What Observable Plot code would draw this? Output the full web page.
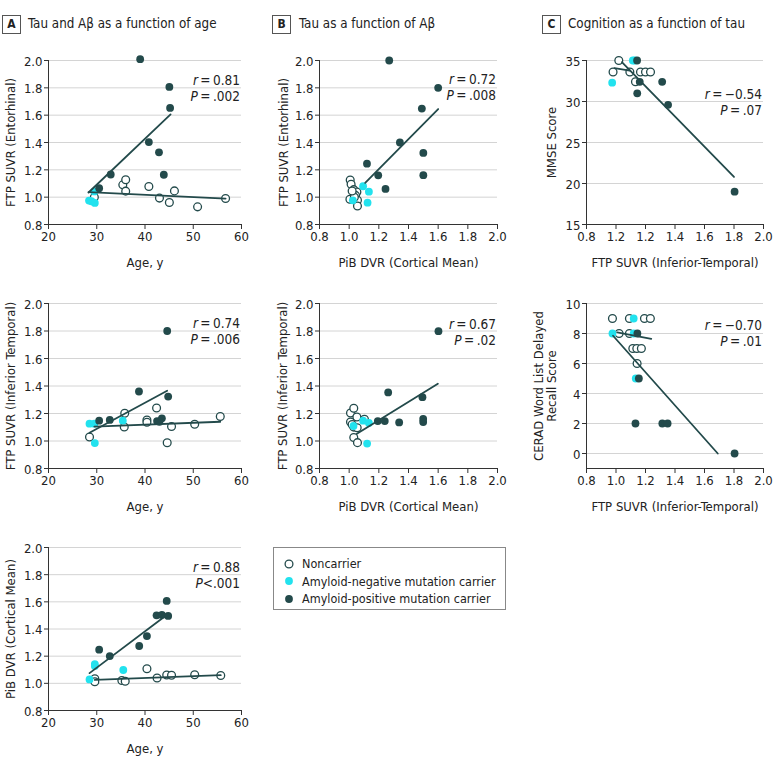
<!DOCTYPE html>
<html><head><meta charset="utf-8">
<script src="https://cdn.jsdelivr.net/npm/d3@7"></script>
<script src="https://cdn.jsdelivr.net/npm/@observablehq/plot@0.6"></script>
<style>
body{margin:0;background:#fff;}
#root{position:relative;width:780px;height:764px;overflow:hidden;font-family:"DejaVu Sans Condensed","DejaVu Sans",sans-serif;color:#222;}
.pl{position:absolute;}
.tagbox{position:absolute;width:17px;height:17px;border:1px solid #555;font-weight:bold;font-size:12px;line-height:17px;text-align:center;}
.title{position:absolute;font-size:13.3px;line-height:20px;white-space:nowrap;}
.ann{position:absolute;width:120px;text-align:right;font-size:13.5px;line-height:16px;white-space:nowrap;}
.legend{position:absolute;left:273px;top:547px;width:231px;height:61px;border:1px solid #888;font-size:12.5px;}
.legend .row{position:absolute;left:10px;height:18px;line-height:18px;white-space:nowrap;}
.legend svg{vertical-align:middle;margin-right:8px;position:relative;top:-1px;}
</style></head><body><div id="root"></div>
<script>
// ---------- data ----------
// Panel A, top: FTP SUVR (Entorhinal) vs age
const aTopOpen = [[29.5,1.00],[35.4,1.09],[36.0,1.127],[36.0,1.044],[40.8,1.078],[43.0,0.993],[45.05,0.961],[46.1,1.046],[50.9,0.929],[56.7,0.990]];
const aTopCyan = [[28.4,0.975],[28.9,0.97],[29.5,1.042],[29.6,0.958]];
const aTopDark = [[39.0,2.01],[45.05,1.807],[45.2,1.653],[40.8,1.403],[42.9,1.328],[43.9,1.164],[32.9,1.166],[30.5,1.066]];
const aTopLineDark = [[28.3,1.034],[45.3,1.606]];
const aTopLineOpen = [[28.3,1.037],[56.7,0.990]];
// Panel A, middle: FTP SUVR (Inferior Temporal) vs age
const aMidOpen = [[28.5,1.029],[35.8,1.202],[35.7,1.102],[40.4,1.153],[40.4,1.136],[42.4,1.240],[44.6,0.987],[45.5,1.105],[50.3,1.122],[55.6,1.178]];
const aMidCyan = [[28.5,1.126],[29.5,1.126],[29.6,0.985],[35.4,1.148]];
const aMidDark = [[44.6,1.80],[38.75,1.36],[44.8,1.323],[30.5,1.148],[32.7,1.153],[42.5,1.145],[43.5,1.165],[43.0,1.14]];
const aMidLineDark = [[28.5,1.06],[44.6,1.365]];
const aMidLineOpen = [[29.5,1.105],[55.6,1.14]];
// Panel A, bottom: PiB DVR (Cortical Mean) vs age
const aBotOpen = [[29.6,1.034],[29.6,1.012],[35.2,1.021],[35.9,1.015],[40.4,1.107],[42.5,1.039],[44.5,1.061],[45.5,1.059],[50.3,1.063],[55.7,1.058]];
const aBotCyan = [[29.6,1.142],[29.6,1.128],[28.5,1.029],[35.5,1.098]];
const aBotDark = [[44.5,1.607],[42.4,1.501],[43.5,1.503],[44.8,1.496],[40.4,1.348],[38.8,1.275],[32.7,1.201],[30.5,1.248]];
const aBotLineDark = [[28.5,1.075],[43.6,1.479]];
const aBotLineOpen = [[29.6,1.025],[55.7,1.06]];
// Panel B, top: FTP SUVR (Entorhinal) vs PiB DVR
const bTopOpen = [[1.007,1.125],[1.013,1.095],[1.031,1.055],[1.052,1.038],[1.043,1.013],[1.056,0.977],[1.056,0.935],[1.005,0.985],[1.035,1.0],[1.02,1.045]];
const bTopCyan = [[1.094,1.08],[1.133,1.04],[1.124,0.96],[1.025,0.977]];
const bTopDark = [[1.27,2.0],[1.60,1.80],[1.49,1.648],[1.342,1.40],[1.50,1.324],[1.50,1.161],[1.12,1.245],[1.196,1.16],[1.245,1.06]];
const bTopLine = [[1.108,1.105],[1.600,1.645]];
// Panel B, middle: FTP SUVR (Inferior Temporal) vs PiB DVR
const bMidOpen = [[1.009,1.204],[1.031,1.238],[1.052,1.175],[1.009,1.138],[1.031,1.101],[1.054,1.096],[1.031,1.025],[1.056,0.988],[1.103,1.158],[1.02,1.12]];
const bMidCyan = [[1.094,1.148],[1.133,1.131],[1.029,1.109],[1.121,0.981]];
const bMidDark = [[1.602,1.799],[1.263,1.353],[1.494,1.319],[1.499,1.160],[1.499,1.138],[1.193,1.145],[1.24,1.145],[1.337,1.135]];
const bMidLine = [[1.052,1.052],[1.598,1.417]];
// Panel C, top: MMSE vs FTP SUVR (Inferior-Temporal)
const cTopOpen = [[1.019,35],[0.98,33.6],[1.094,33.6],[1.166,33.6],[1.2,33.6],[1.234,33.6],[1.132,32.4]];
const cTopCyan = [[0.974,32.3],[1.114,35],[1.127,35]];
const cTopDark = [[1.143,35],[1.161,32.4],[1.144,31.0],[1.313,32.4],[1.353,29.6],[1.804,19.0]];
const cTopLineDark = [[1.04,34.8],[1.80,20.8]];
const cTopLineOpen = [[0.99,34.06],[1.093,33.77]];
// Panel C, middle: CERAD delayed recall vs FTP SUVR (Inferior-Temporal)
const cMidOpen = [[0.976,9],[1.091,9],[1.193,9],[1.233,9],[1.021,8],[1.091,8],[1.114,7],[1.141,7],[1.172,7],[1.143,6]];
const cMidCyan = [[0.976,8],[1.12,9],[1.12,8],[1.134,5]];
const cMidDark = [[1.145,8],[1.155,5],[1.132,2],[1.314,2],[1.35,2],[1.804,0]];
const cMidLineDark = [[0.98,7.85],[1.69,0.0]];
const cMidLineOpen = [[1.008,8.08],[1.239,7.64]];

// ticks and labels
const ageTicks = [20,30,40,50,60];
const suvrTicks = [0.8,1.0,1.2,1.4,1.6,1.8,2.0];
const mmseTicks = [15,20,25,30,35];
const ceradTicks = [0,2,4,6,8,10];
const cTopXTickLabels = ["0.8","1.2","1.2","1.4","1.6","1.8","2.0"];
const titles = ["Tau and A\u03b2 as a function of age","Tau as a function of A\u03b2","Cognition as a function of tau"];
const legendLabels = ["Noncarrier","Amyloid-negative mutation carrier","Amyloid-positive mutation carrier"];
const stats = [
  ["0.81",".002","="],["0.74",".006","="],["0.88",".001","<"],
  ["0.72",".008","="],["0.67",".02","="],
  ["\u22120.54",".07","="],["\u22120.70",".01","="]
];

// ---------- style ----------
const DARK = "#234a4b", CYAN = "#22e2ee", GRID = "#d4d4d4", AXIS = "#333";
const FONT = '"DejaVu Sans Condensed","DejaVu Sans",sans-serif';
const R = 3.9;
const f1 = d3.format(".1f");

function panel(c) {
  const X = d => d[0], Y = d => d[1];
  const marks = [
    Plot.gridY(c.yTicks, {stroke: GRID, strokeOpacity: 1}),
    Plot.ruleX([c.xDomain[0]], {stroke: AXIS}),
    Plot.ruleY([c.yDomain[0]], {stroke: AXIS}),
    Plot.axisX(c.xTicks, {tickSize: 5, tickPadding: 2, tickFormat: c.xFormat, label: c.xLabel, labelAnchor: "center", labelOffset: 42, labelArrow: "none", stroke: AXIS}),
    Plot.axisY(c.yTicks, {tickSize: 4, tickPadding: 2, tickFormat: c.yFormat, label: c.yLabel, labelAnchor: "center", labelOffset: c.yLabelOffset, labelArrow: "none", stroke: AXIS, lineHeight: 1.2}),
    Plot.dot(c.open, {x: X, y: Y, r: R, fill: "white", stroke: DARK, strokeWidth: 1.3}),
    Plot.dot(c.cyan, {x: X, y: Y, r: R, fill: CYAN}),
    Plot.dot(c.dark, {x: X, y: Y, r: R, fill: DARK}),
    ...c.lines.map(l => Plot.line(l, {x: X, y: Y, stroke: DARK, strokeWidth: 1.8}))
  ];
  const svg = Plot.plot({
    width: c.width, height: c.height,
    marginLeft: c.mL, marginRight: c.mR, marginTop: c.mT, marginBottom: c.mB,
    x: {domain: c.xDomain}, y: {domain: c.yDomain},
    style: {fontFamily: FONT, fontSize: "13px", color: "#222", background: "transparent", overflow: "visible"},
    marks
  });
  svg.classList.add("pl");
  svg.style.left = c.left + "px";
  svg.style.top = c.top + "px";
  return svg;
}

const root = document.getElementById("root");
const cols = [
  {left: 0, width: 250, mL: 48, mR: 9},
  {left: 262, width: 248, mL: 57, mR: 13},
  {left: 522, width: 258, mL: 64, mR: 17}
];
const rows = [
  {top: 45, mT: 15, frame: 164},
  {top: 288, mT: 15, frame: 165},
  {top: 532, mT: 15, frame: 163}
];
function geom(ci, ri) {
  const c = cols[ci], r = rows[ri];
  return {left: c.left, width: c.width, mL: c.mL, mR: c.mR, top: r.top, mT: r.mT, mB: 50, height: r.mT + r.frame + 50};
}
const cTopFmt = d => cTopXTickLabels[suvrTicks.indexOf(d)];

const specs = [
  {...geom(0,0), xDomain: [20,60], yDomain: [0.8,2.0], xTicks: ageTicks, yTicks: suvrTicks, xFormat: d => d, yFormat: f1,
   xLabel: "Age, y", yLabel: "FTP SUVR (Entorhinal)", yLabelOffset: 43,
   open: aTopOpen, cyan: aTopCyan, dark: aTopDark, lines: [aTopLineOpen, aTopLineDark]},
  {...geom(0,1), xDomain: [20,60], yDomain: [0.8,2.0], xTicks: ageTicks, yTicks: suvrTicks, xFormat: d => d, yFormat: f1,
   xLabel: "Age, y", yLabel: "FTP SUVR (Inferior Temporal)", yLabelOffset: 43,
   open: aMidOpen, cyan: aMidCyan, dark: aMidDark, lines: [aMidLineOpen, aMidLineDark]},
  {...geom(0,2), xDomain: [20,60], yDomain: [0.8,2.0], xTicks: ageTicks, yTicks: suvrTicks, xFormat: d => d, yFormat: f1,
   xLabel: "Age, y", yLabel: "PiB DVR (Cortical Mean)", yLabelOffset: 43,
   open: aBotOpen, cyan: aBotCyan, dark: aBotDark, lines: [aBotLineOpen, aBotLineDark]},
  {...geom(1,0), xDomain: [0.8,2.0], yDomain: [0.8,2.0], xTicks: suvrTicks, yTicks: suvrTicks, xFormat: f1, yFormat: f1,
   xLabel: "PiB DVR (Cortical Mean)", yLabel: "FTP SUVR (Entorhinal)", yLabelOffset: 41,
   open: bTopOpen, cyan: bTopCyan, dark: bTopDark, lines: [bTopLine]},
  {...geom(1,1), xDomain: [0.8,2.0], yDomain: [0.8,2.0], xTicks: suvrTicks, yTicks: suvrTicks, xFormat: f1, yFormat: f1,
   xLabel: "PiB DVR (Cortical Mean)", yLabel: "FTP SUVR (Inferior Temporal)", yLabelOffset: 42,
   open: bMidOpen, cyan: bMidCyan, dark: bMidDark, lines: [bMidLine]},
  {...geom(2,0), xDomain: [0.8,2.0], yDomain: [15,35], xTicks: suvrTicks, yTicks: mmseTicks, xFormat: cTopFmt, yFormat: d => d,
   xLabel: "FTP SUVR (Inferior-Temporal)", yLabel: "MMSE Score", yLabelOffset: 40,
   open: cTopOpen, cyan: cTopCyan, dark: cTopDark, lines: [cTopLineOpen, cTopLineDark]},
  {...geom(2,1), xDomain: [0.8,2.0], yDomain: [-1,10], xTicks: suvrTicks, yTicks: ceradTicks, xFormat: f1, yFormat: d => d,
   xLabel: "FTP SUVR (Inferior-Temporal)", yLabel: "CERAD Word List Delayed\nRecall Score", yLabelOffset: 53,
   open: cMidOpen, cyan: cMidCyan, dark: cMidDark, lines: [cMidLineOpen, cMidLineDark]}
];
specs.forEach(s => root.appendChild(panel(s)));

// panel titles
const tagPos = [{x: 2, t: "A", tx: 28}, {x: 272, t: "B", tx: 299}, {x: 542, t: "C", tx: 568}];
tagPos.forEach((p, i) => {
  const b = document.createElement("div");
  b.className = "tagbox"; b.style.left = p.x + "px"; b.style.top = "15px"; b.textContent = p.t;
  root.appendChild(b);
  const t = document.createElement("div");
  t.className = "title"; t.style.left = p.tx + "px"; t.style.top = "14px"; t.textContent = titles[i];
  root.appendChild(t);
});

// statistics annotations (right edge x, r-line center y)
const annPos = [[240,80],[240,323],[240,567],[496,79],[496,324],[762,94],[762,325]];
annPos.forEach(([x, y], i) => {
  const [rv, pv, op] = stats[i];
  const d = document.createElement("div");
  d.className = "ann"; d.style.left = (x - 120) + "px"; d.style.top = (y - 8) + "px";
  d.innerHTML = "<i>r</i>\u2009=\u2009" + rv + "<br><i>P</i>" + (op === "<" ? "<" : "\u2009=\u2009") + pv;
  root.appendChild(d);
});

// legend
const lg = document.createElement("div");
lg.className = "legend";
const sym = [
  '<circle cx="5" cy="5" r="3.9" fill="white" stroke="' + DARK + '" stroke-width="1.3"/>',
  '<circle cx="5" cy="5" r="3.9" fill="' + CYAN + '"/>',
  '<circle cx="5" cy="5" r="3.9" fill="' + DARK + '"/>'
];
legendLabels.forEach((lab, i) => {
  const r = document.createElement("div");
  r.className = "row"; r.style.top = (7 + i * 17.5) + "px";
  r.innerHTML = '<svg width="10" height="10">' + sym[i] + '</svg>' + lab;
  lg.appendChild(r);
});
root.appendChild(lg);
</script>
</body></html>
